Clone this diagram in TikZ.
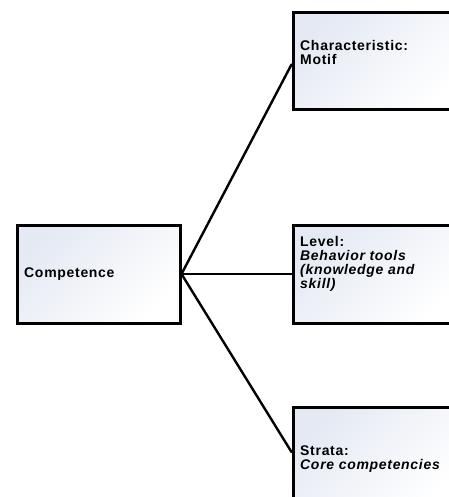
\documentclass[tikz,border=0pt]{standalone}
\usepackage{fontspec}
\newfontfamily\boxfont[LetterSpace=5]{Liberation Sans}
\definecolor{boxtint}{HTML}{E4E9F3}
\begin{document}
\begin{tikzpicture}[x=1pt,y=-1pt,
  box/.style={draw=black, line width=3pt, rectangle, inner sep=0pt,
    top color=boxtint, bottom color=white, shading angle=45},
  lbl/.style={anchor=base west, inner sep=0pt, align=left,
    font=\boxfont\bfseries\fontsize{14}{14}\selectfont},
  link/.style={line width=2.4pt, line cap=round}]
\useasboundingbox (0,0) rectangle (448,497);
\node[box, minimum width=163pt, minimum height=98pt] (comp) at (98.5,274) {};
\node[box, minimum width=170pt, minimum height=97pt] (top) at (378,61.5) {};
\node[box, minimum width=170pt, minimum height=98pt] (mid) at (378,274) {};
\node[box, minimum width=170pt, minimum height=100pt] (bot) at (378,457) {};
\draw[link] (comp.east) -- ([yshift=-3pt]top.west);
\draw[link] (comp.east) -- (mid.west);
\draw[link] (comp.east) -- ([yshift=5pt]bot.west);
\node[lbl] (t0) at (24,277) {Competence};
\node[lbl] (t1) at (300,65) {Characteristic:\\Motif};
\node[lbl] (t2) at (300,288) {Level:\\{\itshape Behavior tools}\\{\itshape (knowledge and}\\{\itshape skill)}};
\node[lbl] (t3) at (300,469) {Strata:\\{\itshape Core competencies}};
\end{tikzpicture}
\end{document}
